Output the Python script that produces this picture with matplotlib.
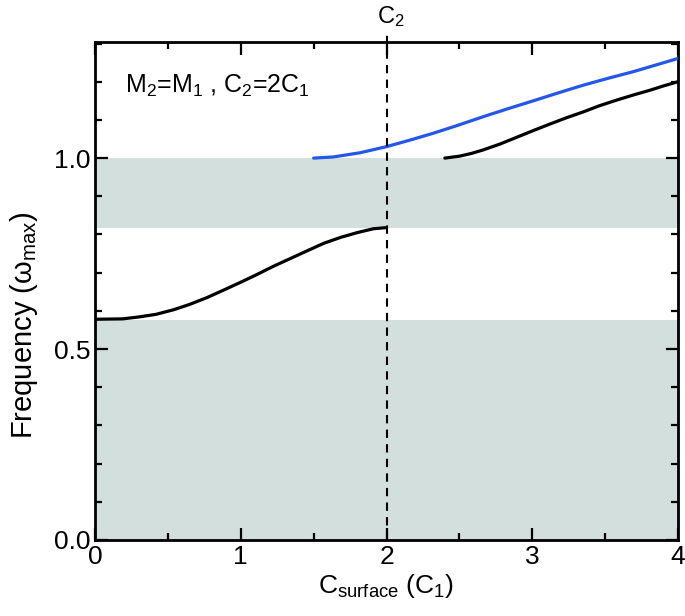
import numpy as np
import matplotlib.pyplot as plt
from matplotlib.ticker import MultipleLocator

plt.rcParams['font.family'] = ['Liberation Sans', 'DejaVu Sans']
plt.rcParams['mathtext.fontset'] = 'custom'
plt.rcParams['mathtext.rm'] = 'Liberation Sans'
plt.rcParams['mathtext.it'] = 'Liberation Sans'

# === Data ===
# lower branch, inside the gap
low_x = [0.0, 0.19, 0.30, 0.42, 0.54, 0.65, 0.77, 0.88, 1.0, 1.11, 1.22,
         1.34, 1.46, 1.57, 1.69, 1.80, 1.91, 2.0]
low_y = [0.578, 0.579, 0.584, 0.591, 0.603, 0.617, 0.635, 0.654, 0.675, 0.695, 0.716,
         0.737, 0.758, 0.777, 0.793, 0.805, 0.815, 0.818]

# blue branch
blue_x = [1.5, 1.635, 1.818, 2.0, 2.16, 2.32, 2.49, 2.66, 2.83, 3.007, 3.18,
          3.35, 3.52, 3.69, 3.85, 4.0]
blue_y = [1.0, 1.003, 1.014, 1.030, 1.047, 1.065, 1.086, 1.108, 1.129, 1.150, 1.171,
          1.191, 1.209, 1.226, 1.244, 1.261]

# upper black branch
up_x = [2.4, 2.50, 2.58, 2.66, 2.78, 2.89, 3.00, 3.12, 3.23, 3.35, 3.46,
        3.58, 3.70, 3.81, 3.90, 4.0]
up_y = [1.0, 1.005, 1.012, 1.021, 1.037, 1.054, 1.071, 1.089, 1.105, 1.121, 1.137,
        1.152, 1.166, 1.178, 1.189, 1.200]

# gray bands (bulk bands)
bands = [(0.0, 0.577), (0.8165, 1.0)]
c2_pos = 2.0

fig = plt.figure(figsize=(6.85, 6.16), dpi=100)
ax = fig.add_axes([0.1387, 0.1234, 0.8511, 0.8084])

for lo, hi in bands:
    ax.axhspan(lo, hi, color='#d3dfdc', lw=0, zorder=0)

ax.plot(low_x, low_y, color='black', lw=2.3, zorder=3, solid_capstyle='round')
ax.plot(blue_x, blue_y, color='#2456e8', lw=2.3, zorder=3, solid_capstyle='round')
ax.plot(up_x, up_y, color='black', lw=2.3, zorder=3, solid_capstyle='round')

# dashed line at C2, running above the frame
ax.plot([c2_pos, c2_pos], [0, 1.327], color='black', lw=1.5, ls=(0, (4, 3)),
        clip_on=False, zorder=4)
ax.text(c2_pos + 0.03, 1.353, r'C$_2$', fontsize=17, ha='center', va='baseline')

ax.text(0.206, 1.170, r'M$_2$=M$_1$ , C$_2$=2C$_1$', fontsize=18, va='baseline')

ax.set_xlim(0, 4)
ax.set_ylim(0, 1.304)
ax.xaxis.set_major_locator(MultipleLocator(1))
ax.xaxis.set_minor_locator(MultipleLocator(0.5))
ax.yaxis.set_major_locator(MultipleLocator(0.5))
ax.yaxis.set_minor_locator(MultipleLocator(0.1))
ax.yaxis.set_major_formatter(plt.FuncFormatter(lambda v, p: f'{v:.1f}'))

ax.tick_params(which='both', direction='in', top=True, right=True, width=1.6,
               labelsize=19)
ax.tick_params(which='major', length=9)
ax.tick_params(which='minor', length=5)
for s in ax.spines.values():
    s.set_linewidth(2)

ax.set_xlabel(r'C$_{\mathrm{surface}}$ (C$_1$)', fontsize=19, labelpad=2)
ax.set_ylabel(r'Frequency ($\omega_{\mathrm{max}}$)', fontsize=21)
ax.yaxis.set_label_coords(-0.094, 0.432)

plt.savefig('out.png', dpi=100)
